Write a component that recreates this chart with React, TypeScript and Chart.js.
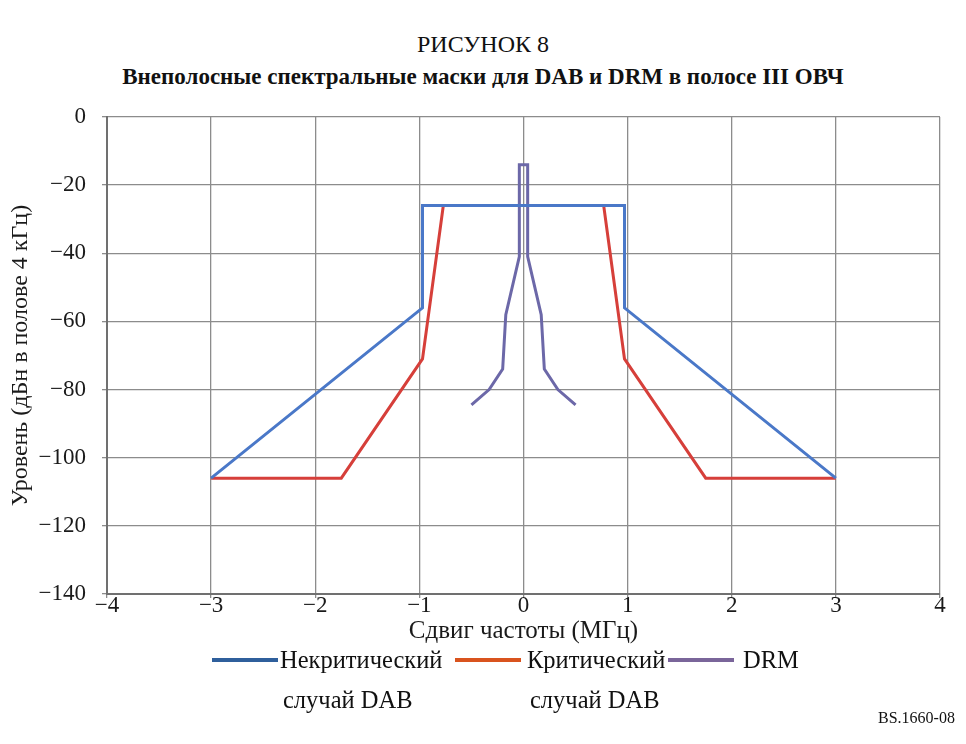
import React, { useEffect, useRef } from "react";
import { Chart, registerables } from "chart.js";

Chart.register(...registerables);

const nonCriticalX = [-3, -0.97, -0.97, 0.97, 0.97, 3];
const nonCriticalY = [-106, -56, -26, -26, -56, -106];
const criticalX = [-3, -1.75, -0.97, -0.77, 0.77, 0.97, 1.75, 3];
const criticalY = [-106, -106, -71, -26, -26, -71, -106, -106];
const drmX = [-0.5, -0.33, -0.2, -0.17, -0.04, -0.04, 0.04, 0.04, 0.17, 0.2, 0.33, 0.5];
const drmY = [-84.5, -80, -74, -58, -41, -14, -14, -41, -58, -74, -80, -84.5];

const seriesNames = [["Некритический", "случай DAB"], ["Критический", "случай DAB"], ["DRM"]];
const lineColors = ["#4a78c8", "#d63f3a", "#6c68a8"];
const legendColors = ["#2f5f9c", "#d9531e", "#7a659a"];

const xMin = -4, xMax = 4, xStep = 1;
const yMin = -140, yMax = 0, yStep = 20;

const titleText = "РИСУНОК 8";
const subtitleText = "Внеполосные спектральные маски для DAB и DRM в полосе III ОВЧ";
const xTitle = "Сдвиг частоты (МГц)";
const yTitle = "Уровень (дБн в полове 4 кГц)";
const figId = "BS.1660-08";

const FONT = "\"Liberation Serif\", \"Times New Roman\", serif";

function pts(xs: number[], ys: number[]) {
  return xs.map((x, i) => ({ x, y: ys[i] }));
}

export default function App() {
  const ref = useRef<HTMLCanvasElement | null>(null);
  useEffect(() => {
    if (!ref.current) return;
    const fmt = (v: any) => {
      const n = Number(v);
      return n < 0 ? "\u2212" + String(Math.abs(n)) : String(n);
    };
    const chart = new Chart(ref.current, {
      type: "scatter",
      data: {
        datasets: [
          { label: seriesNames[0].join(" "), data: pts(nonCriticalX, nonCriticalY), borderColor: lineColors[0], showLine: true, borderWidth: 3, pointRadius: 0, fill: false },
          { label: seriesNames[1].join(" "), data: pts(criticalX, criticalY), borderColor: lineColors[1], showLine: true, borderWidth: 3, pointRadius: 0, fill: false },
          { label: seriesNames[2].join(" "), data: pts(drmX, drmY), borderColor: lineColors[2], showLine: true, borderWidth: 3, pointRadius: 0, fill: false },
        ],
      },
      options: {
        animation: false,
        responsive: true,
        maintainAspectRatio: false,
        layout: { padding: { left: 0, top: 117, right: 26, bottom: 98 } },
        plugins: { legend: { display: false }, tooltip: { enabled: false }, title: { display: false } },
        scales: {
          x: {
            type: "linear",
            min: xMin,
            max: xMax,
            ticks: { stepSize: xStep, color: "#1a1a1a", font: { family: FONT, size: 23 }, padding: -6, callback: fmt, maxRotation: 0 },
            grid: { color: "#8c8c8c", lineWidth: 1.3, tickLength: 4 },
            border: { color: "#707070", width: 2 },
            title: { display: true, text: xTitle, color: "#1a1a1a", font: { family: FONT, size: 25 }, padding: { top: 0, bottom: 0 } },
            afterFit: (s: any) => { s.height = 52; },
          },
          y: {
            type: "linear",
            min: yMin,
            max: yMax,
            ticks: { stepSize: yStep, color: "#1a1a1a", font: { family: FONT, size: 23 }, padding: 16, callback: fmt },
            grid: { color: "#8c8c8c", lineWidth: 1.3, tickLength: 5 },
            border: { color: "#707070", width: 2 },
            title: { display: true, text: yTitle, color: "#1a1a1a", font: { family: FONT, size: 24 }, padding: { top: 6, bottom: 0 } },
            afterFit: (s: any) => { s.width = 107; },
          },
        },
      },
    });
    return () => chart.destroy();
  }, []);

  const legendPos = [
    { line: 212, text: 280 },
    { line: 455, text: 527 },
    { line: 668, text: 743 },
  ];

  return (
    <div style={{ position: "absolute", left: 0, top: 0, width: 966, height: 744, background: "#fff", fontFamily: FONT, color: "#111" }}>
      <div style={{ position: "absolute", left: 0, width: 966, top: 30, textAlign: "center", fontSize: 24, lineHeight: "28px", whiteSpace: "nowrap" }}>{titleText}</div>
      <div style={{ position: "absolute", left: 0, width: 966, top: 63, textAlign: "center", fontSize: 23, fontWeight: "bold", lineHeight: "28px", whiteSpace: "nowrap" }}>{subtitleText}</div>
      <div style={{ position: "absolute", left: 0, top: 0, width: 966, height: 744 }}>
        <canvas ref={ref} />
      </div>
      {seriesNames.map((lines, i) => (
        <div key={i}>
          <div style={{ position: "absolute", left: legendPos[i].line, top: 658, width: 66, height: 4, background: legendColors[i] }} />
          <div style={{ position: "absolute", left: legendPos[i].text, top: 640, fontSize: 24.5, lineHeight: "40px", whiteSpace: "nowrap" }}>
            {lines.map((t, j) => (
              <div key={j} style={{ marginLeft: j === 0 ? 0 : 3 }}>{t}</div>
            ))}
          </div>
        </div>
      ))}
      <div style={{ position: "absolute", left: 878, top: 708, fontSize: 16, lineHeight: "20px", whiteSpace: "nowrap" }}>{figId}</div>
    </div>
  );
}
